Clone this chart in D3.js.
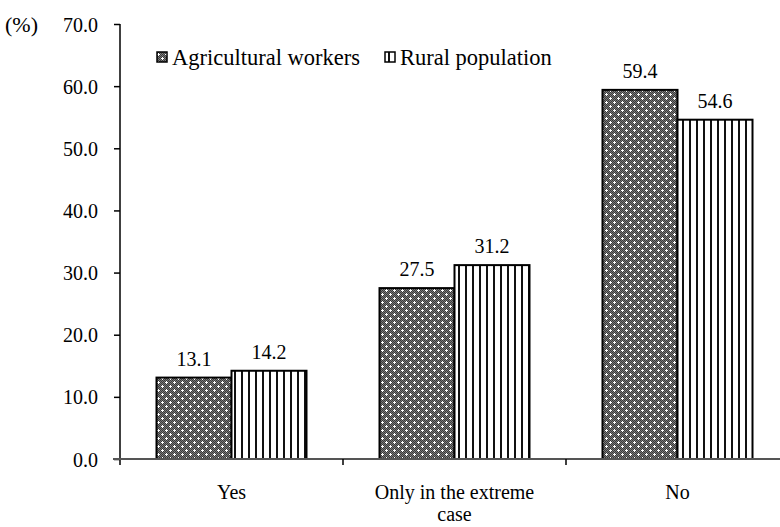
<!DOCTYPE html>
<html>
<head>
<meta charset="utf-8">
<script src="https://cdn.jsdelivr.net/npm/d3@7"></script>
<style>
  html, body { margin: 0; padding: 0; background: #fff; }
  svg { display: block; }
  svg text { font-family: "Liberation Serif", "DejaVu Serif", serif; }
</style>
</head>
<body>
<svg id="chart" width="780" height="527"></svg>
<script>
const categories = ["Yes", "Only in the extreme case", "No"];
const seriesNames = ["Agricultural workers", "Rural population"];
const agriculturalWorkers = [13.1, 27.5, 59.4];
const ruralPopulation = [14.2, 31.2, 54.6];
const yTicks = [0, 10, 20, 30, 40, 50, 60, 70];

const FONT = "Liberation Serif, DejaVu Serif, serif";
const svg = d3.select("#chart");
const defs = svg.append("defs");

// Dotted fill: grey checker with white crosses on a staggered grid
const dots = defs.append("pattern")
  .attr("id", "dots").attr("patternUnits", "userSpaceOnUse")
  .attr("width", 8).attr("height", 8);
dots.append("rect").attr("width", 8).attr("height", 8).attr("fill", "#7a7a7a");
for (let i = 0; i < 8; i++) for (let j = 0; j < 8; j++) {
  if ((i + j) % 2 === 0) dots.append("rect").attr("x", i).attr("y", j)
    .attr("width", 1).attr("height", 1).attr("fill", "#3a3a3a");
}
[[2, 2], [6, 6]].forEach(([cx, cy]) => {
  dots.append("rect").attr("x", cx - 1).attr("y", cy).attr("width", 3).attr("height", 1).attr("fill", "#fff");
  dots.append("rect").attr("x", cx).attr("y", cy - 1).attr("width", 1).attr("height", 3).attr("fill", "#fff");
});

// Vertical stripes
const stripes = defs.append("pattern")
  .attr("id", "stripes").attr("patternUnits", "userSpaceOnUse")
  .attr("width", 7).attr("height", 7);
stripes.append("rect").attr("width", 7).attr("height", 7).attr("fill", "#fff");
stripes.append("rect").attr("x", 3).attr("width", 2).attr("height", 7).attr("fill", "#111");

const fills = ["url(#dots)", "url(#stripes)"];

const x0 = d3.scaleBand().domain(categories).range([120, 789]).paddingInner(0).paddingOuter(0);
const y = d3.scaleLinear().domain([0, 70]).range([459, 24]);
const barW = 75;

const table = categories.map((c, i) => ({
  cat: c,
  vals: [agriculturalWorkers[i], ruralPopulation[i]]
}));

// Bars with value labels
const groups = svg.append("g").selectAll("g").data(table).join("g");
groups.each(function(d) {
  const g = d3.select(this);
  const cx = x0(d.cat) + x0.bandwidth() / 2;
  d.vals.forEach((v, k) => {
    const bx = cx - barW + k * barW;
    g.append("rect")
      .attr("x", bx).attr("y", y(v))
      .attr("width", barW).attr("height", y(0) - y(v))
      .attr("fill", fills[k]).attr("stroke", "#000").attr("stroke-width", 2);
    g.append("text")
      .attr("x", bx + barW / 2).attr("y", y(v) - 12)
      .attr("text-anchor", "middle").attr("font-size", 20)
      .attr("font-family", FONT)
      .attr("fill", "#000").text(v.toFixed(1));
  });
});

// Y axis
const yAxis = svg.append("g").attr("transform", "translate(120,0)")
  .call(d3.axisLeft(y).tickValues(yTicks).tickSize(6).tickSizeOuter(0)
    .tickFormat(d => d.toFixed(1)));
yAxis.attr("font-family", FONT);
yAxis.select(".domain").attr("stroke", "#000").attr("stroke-width", 1.5)
  .attr("d", `M0,${y(70)}V${y(0) + 6}`);
yAxis.selectAll(".tick line").attr("stroke", "#000").attr("stroke-width", 1.5);
yAxis.selectAll(".tick text").attr("font-size", 20).attr("fill", "#000")
  .attr("font-family", FONT).attr("x", -22).attr("dy", "0.35em");

// X axis
const xAxis = svg.append("g").attr("transform", `translate(0,${y(0)})`);
xAxis.append("line").attr("x1", 113).attr("x2", 789).attr("y1", 0).attr("y2", 0)
  .attr("stroke", "#555").attr("stroke-width", 2);
[x0(categories[1]), x0(categories[2])].forEach(tx => {
  xAxis.append("line").attr("x1", tx).attr("x2", tx).attr("y1", 0).attr("y2", 6)
    .attr("stroke", "#000").attr("stroke-width", 1.5);
});
const xLabels = [["Yes"], ["Only in the extreme", "case"], ["No"]];
categories.forEach((c, i) => {
  const t = xAxis.append("text")
    .attr("x", x0(c) + x0.bandwidth() / 2).attr("y", 40)
    .attr("text-anchor", "middle").attr("font-size", 20)
    .attr("font-family", FONT).attr("fill", "#000");
  xLabels[i].forEach((line, li) => {
    t.append("tspan").attr("x", x0(c) + x0.bandwidth() / 2)
      .attr("dy", li === 0 ? 0 : 22).text(line);
  });
});

// Unit label
svg.append("text").attr("x", 5).attr("y", 24).attr("dy", "0.35em")
  .attr("font-size", 22).attr("font-family", FONT).attr("fill", "#000").text("(%)");

// Legend
const legendX = [157, 385];
seriesNames.forEach((name, k) => {
  svg.append("rect").attr("x", legendX[k]).attr("y", 52)
    .attr("width", 10).attr("height", 10)
    .attr("fill", fills[k]).attr("stroke", "#000").attr("stroke-width", 1.5);
  svg.append("text").attr("x", legendX[k] + 15).attr("y", 57).attr("dy", "0.35em")
    .attr("font-size", 22.5).attr("font-family", FONT).attr("fill", "#000").text(name);
});
</script>
</body>
</html>
